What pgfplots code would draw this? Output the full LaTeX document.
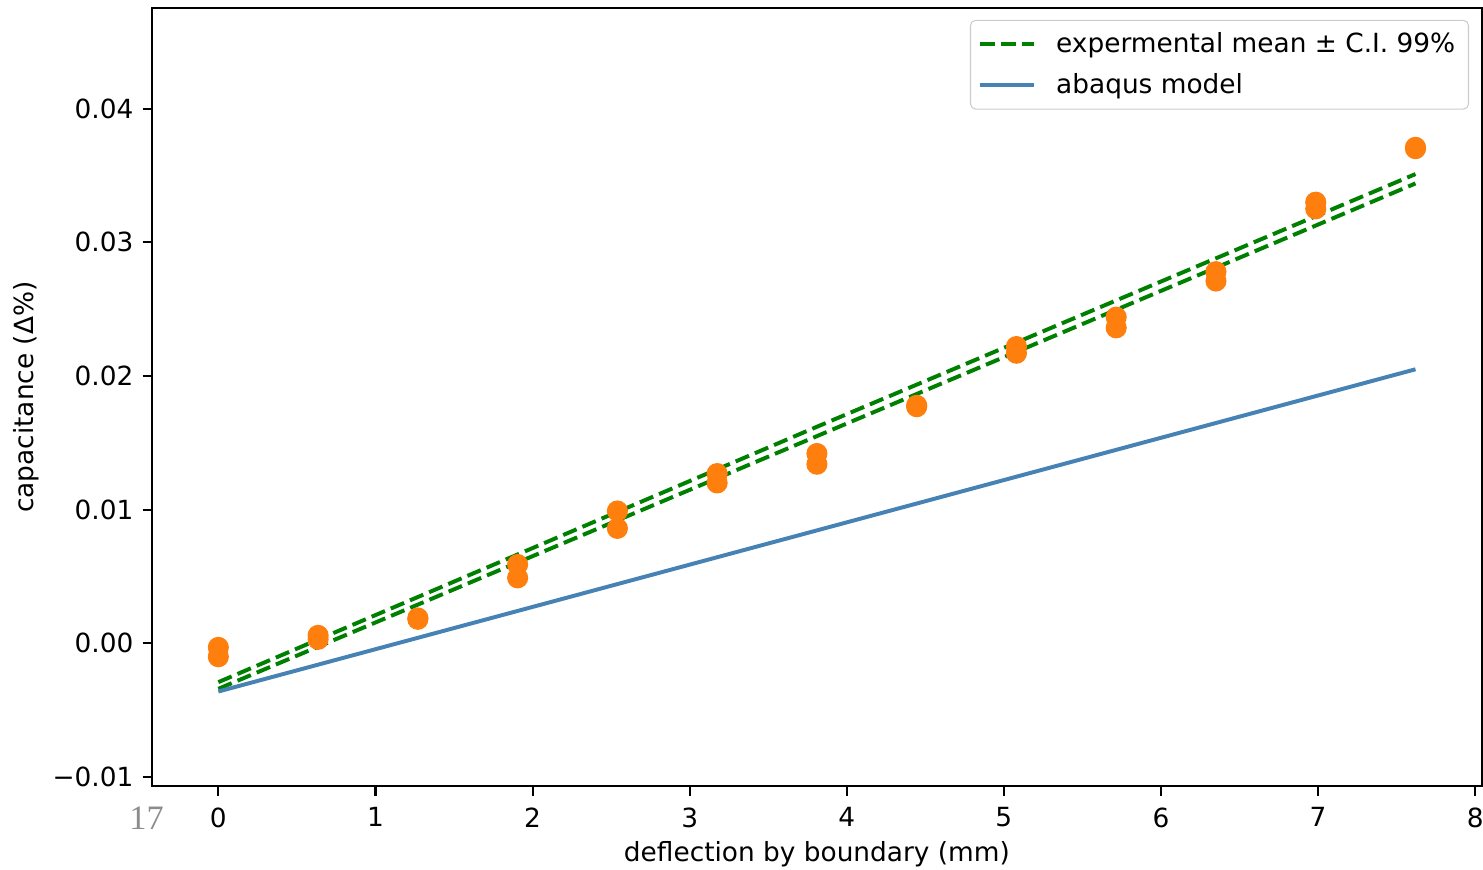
\documentclass[border=0pt]{standalone}
\usepackage{pgfplots}
\pgfplotsset{compat=1.18}
\usepackage{fontspec}
\setmainfont{DejaVu Sans}
\newfontfamily\pagefont{Liberation Serif}
\definecolor{mplorange}{HTML}{FF7F0E}
\definecolor{mplgreen}{HTML}{008000}
\definecolor{steel}{HTML}{4682B4}
\begin{document}
\begin{tikzpicture}
\begin{axis}[
  scale only axis,
  width=504.4pt, height=295.2pt,
  xmin=-0.423, xmax=8.043, ymin=-0.01069, ymax=0.04753,
  axis line style={line width=0.8pt},
  tick pos=left, tick align=outside, major tick length=3.5pt,
  tick style={black, line width=0.8pt},
  xtick={0,1,2,3,4,5,6,7,8},
  xticklabels={0,1,2,3,4,5,6,7,8},
  ytick={-0.01,0,0.01,0.02,0.03,0.04},
  yticklabels={−0.01,0.00,0.01,0.02,0.03,0.04},
  ticklabel style={font=\fontsize{10}{12}\selectfont},
  xticklabel style={yshift=-1pt},
  xlabel={deflection by boundary (mm)},
  ylabel={capacitance (Δ\%)},
  label style={font=\fontsize{10}{12}\selectfont},
  xlabel style={at={(axis description cs:0.5,-0.0874)}, anchor=center},
  ylabel style={at={(axis description cs:-0.0945,0.5)}, anchor=center, rotate=0},
  legend style={at={(1,1)}, anchor=north east, xshift=-4.9pt, yshift=-4.5pt,
    draw=black!20, rounded corners=2pt, font=\fontsize{10}{12}\selectfont,
    inner xsep=3pt, inner ysep=2.5pt, row sep=2.5pt, cells={anchor=west}},
  legend image code/.code={\draw[#1] (0pt,0pt) -- (20.5pt,0pt); \path (26pt,0pt);},
  clip=false,
]
% experimental points
\addplot[only marks, mark=*, mark size=3.8pt, mark options={draw=mplorange, fill=mplorange}, forget plot] coordinates {
 (0,-0.0003) (0,-0.0010)
 (0.635,0.0006) (0.635,0.0003)
 (1.27,0.0019) (1.27,0.0018)
 (1.905,0.0059) (1.905,0.0049)
 (2.54,0.0099) (2.54,0.0086)
 (3.175,0.0127) (3.175,0.0120)
 (3.81,0.0142) (3.81,0.0134)
 (4.445,0.0178) (4.445,0.0177)
 (5.08,0.0222) (5.08,0.0217)
 (5.715,0.0244) (5.715,0.0236)
 (6.35,0.0278) (6.35,0.0271)
 (6.985,0.0330) (6.985,0.0325)
 (7.62,0.0371) (7.62,0.0370)
};
% confidence interval lines
\addplot[mplgreen, line width=1.5pt, dash pattern=on 5.5pt off 2.4pt] coordinates {
 (0,-0.0029) (3.81,0.0162) (7.62,0.0351)
};
\addlegendentry{expermental mean ± C.I. 99\%}
\addplot[mplgreen, line width=1.5pt, dash pattern=on 5.5pt off 2.4pt, forget plot] coordinates {
 (0,-0.0034) (3.81,0.0155) (7.62,0.0344)
};
% abaqus model
\addplot[steel, line width=1.5pt] coordinates {
 (0,-0.0036) (7.62,0.0205)
};
\addlegendentry{abaqus model}
\node[text=black!45, font=\pagefont\fontsize{13}{14}\selectfont, anchor=center] at (axis description cs:-0.004,-0.041) {17};
\end{axis}
\pgfresetboundingbox
\path ([xshift=-57.6pt,yshift=-31.5pt]current axis.south west) rectangle ([xshift=0.4pt,yshift=3pt]current axis.north east);
\end{tikzpicture}
\end{document}
